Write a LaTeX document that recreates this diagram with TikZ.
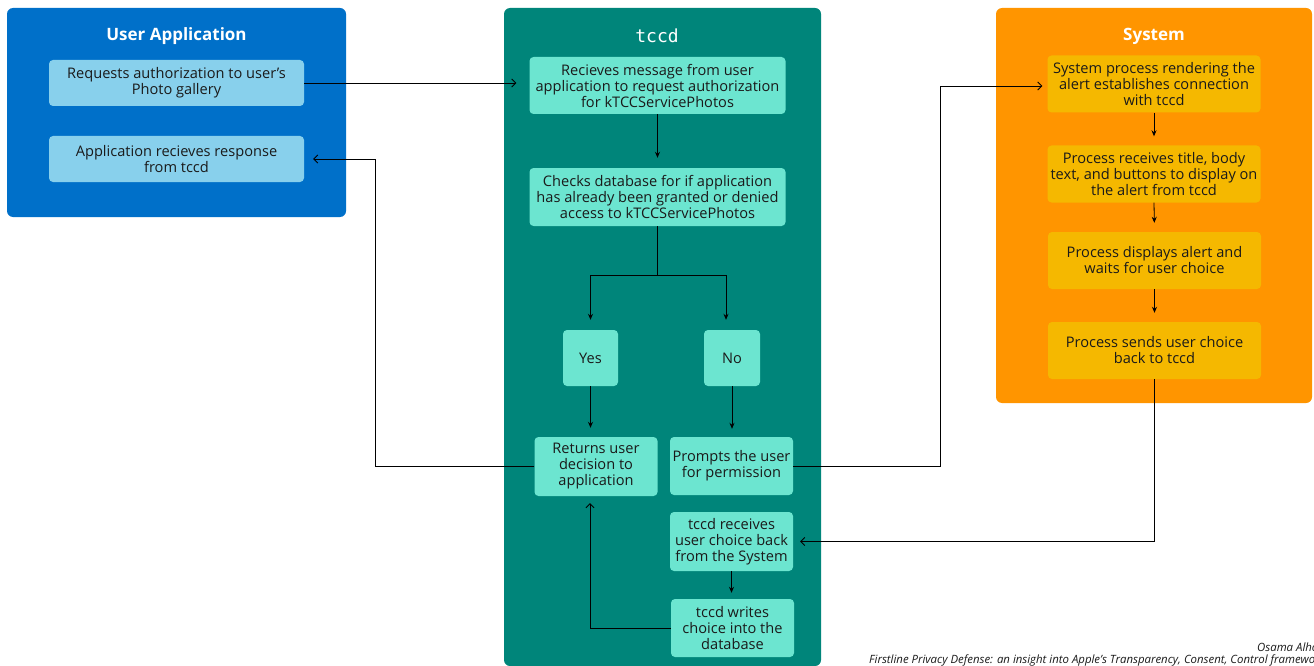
\documentclass[tikz,border=0pt]{standalone}
\usepackage{fontspec}
\setmainfont{Open Sans}
\newfontfamily\monofont{DejaVu Sans Mono}
\usetikzlibrary{arrows.meta}
\definecolor{uablue}{HTML}{0070C9}
\definecolor{lblue}{HTML}{88D0EC}
\definecolor{tealbg}{HTML}{00857A}
\definecolor{mint}{HTML}{6CE5D0}
\definecolor{orangebg}{HTML}{FF9500}
\definecolor{amber}{HTML}{F5B800}
\definecolor{ink}{HTML}{1A1A1A}
\tikzset{
  container/.style={rounded corners=6pt},
  title/.style={text=white, font=\fontsize{17}{20}\selectfont\bfseries},
  inbox/.style={rounded corners=4pt, align=center, inner sep=0pt, text=ink,
    font=\fontsize{14.6}{16}\selectfont},
  bluebox/.style={inbox, fill=lblue, minimum width=255pt, minimum height=46pt},
  tealbox/.style={inbox, fill=mint},
  sysbox/.style={inbox, fill=amber, minimum width=213pt, minimum height=57pt},
  flow/.style={-{Stealth[length=6pt,width=5pt]}, line width=0.8pt, draw=black},
  openflow/.style={-{Straight Barb[length=4pt,width=8pt]}, line width=0.8pt, draw=black},
  footer/.style={font=\fontsize{11.4}{12}\selectfont\itshape, text=ink, inner sep=0pt}
}
\begin{document}
\begin{tikzpicture}[x=1pt,y=-1pt]
\useasboundingbox (0,0) rectangle (1314,666);
\fill[white] (0,0) rectangle (1314,666);
% containers
\fill[uablue, container] (7,8) rectangle (346,217);
\fill[tealbg, container] (504,8) rectangle (821,666);
\fill[orangebg, container] (996,8) rectangle (1312,403);
\node[title] (tua) at (176.5,36) {User Application};
\node[title, font=\monofont\fontsize{18}{20}\selectfont] (ttc) at (657,36) {tccd};
\node[title] (tsy) at (1154,36) {System};
% user application
\node[bluebox] (req) at (176.5,83) {Requests authorization to user's\\Photo gallery};
\node[bluebox] (resp) at (176.5,159) {Application recieves response\\from tccd};
% tccd
\node[tealbox, minimum width=256pt, minimum height=57pt] (recv) at (657.5,85.5) {Recieves message from user\\application to request authorization\\for kTCCServicePhotos};
\node[tealbox, minimum width=256pt, minimum height=58pt] (check) at (657.5,197) {Checks database for if application\\has already been granted or denied\\access to kTCCServicePhotos};
\node[tealbox, minimum width=55pt, minimum height=56pt] (yes) at (590.5,358) {Yes};
\node[tealbox, minimum width=56pt, minimum height=56pt] (no) at (732,358) {No};
\node[tealbox, minimum width=123pt, minimum height=59pt] (ret) at (596,466.5) {Returns user\\decision to\\application};
\node[tealbox, minimum width=123pt, minimum height=58pt] (prompt) at (731.5,466) {Prompts the user\\for permission};
\node[tealbox, minimum width=123pt, minimum height=59pt] (trecv) at (731.5,541.5) {tccd receives\\user choice back\\from the System};
\node[tealbox, minimum width=123pt, minimum height=58pt] (writes) at (732.5,628) {tccd writes\\choice into the\\database};
% system
\node[sysbox] (s1) at (1154,84) {System process rendering the\\alert establishes connection\\with tccd};
\node[sysbox] (s2) at (1154,174) {Process receives title, body\\text, and buttons to display on\\the alert from tccd};
\node[sysbox] (s3) at (1154.5,260.5) {Process displays alert and\\waits for user choice};
\node[sysbox] (s4) at (1154.5,350.5) {Process sends user choice\\back to tccd};
% helper coordinates
\coordinate (split) at (657.5,275);
\coordinate (xa) at (375,0);
\coordinate (xb) at (940,0);
\coordinate (xc) at (590,0);
% connectors
\draw[openflow, shorten >=13pt] (req.east) -- (req.east -| recv.west);
\draw[flow, shorten >=10pt] (recv.south) -- (check.north);
\draw[line width=0.8pt] (check.south) -- (split);
\draw[flow, shorten >=10pt] (split) -| (yes.north);
\draw[flow, shorten >=10pt] (split) -| ([xshift=-6pt]no.north);
\draw[flow, shorten >=9pt] (yes.south) -- (yes.south |- ret.north);
\draw[flow, shorten >=8pt] (no.south) -- (no.south |- prompt.north);
\draw[openflow, shorten >=9pt] (ret.west) -- (ret.west -| xa) |- (resp.east);
\draw[openflow, shorten >=5pt] (prompt.east) -- (prompt.east -| xb) |- ([yshift=-2pt]s1.west);
\draw[flow, shorten >=9pt] (s1.south) -- (s2.north);
\draw[flow, shorten >=9pt] (s2.south) -- (s3.north);
\draw[flow, shorten >=9pt] (s3.south) -- (s4.north);
\draw[openflow, shorten >=7pt] (s4.south) |- (trecv.east);
\draw[flow, shorten >=6pt] (trecv.south) -- (trecv.south |- writes.north);
\draw[openflow, shorten >=7pt] (writes.west) -| (xc |- ret.south);
% footer
\node[footer, anchor=base west] (fa) at (1257,651) {Osama Alho};
\node[footer, anchor=base west] (fb) at (869,663) {Firstline Privacy Defense: an insight into Apple’s Transparency, Consent, Control framework};
\end{tikzpicture}
\end{document}
